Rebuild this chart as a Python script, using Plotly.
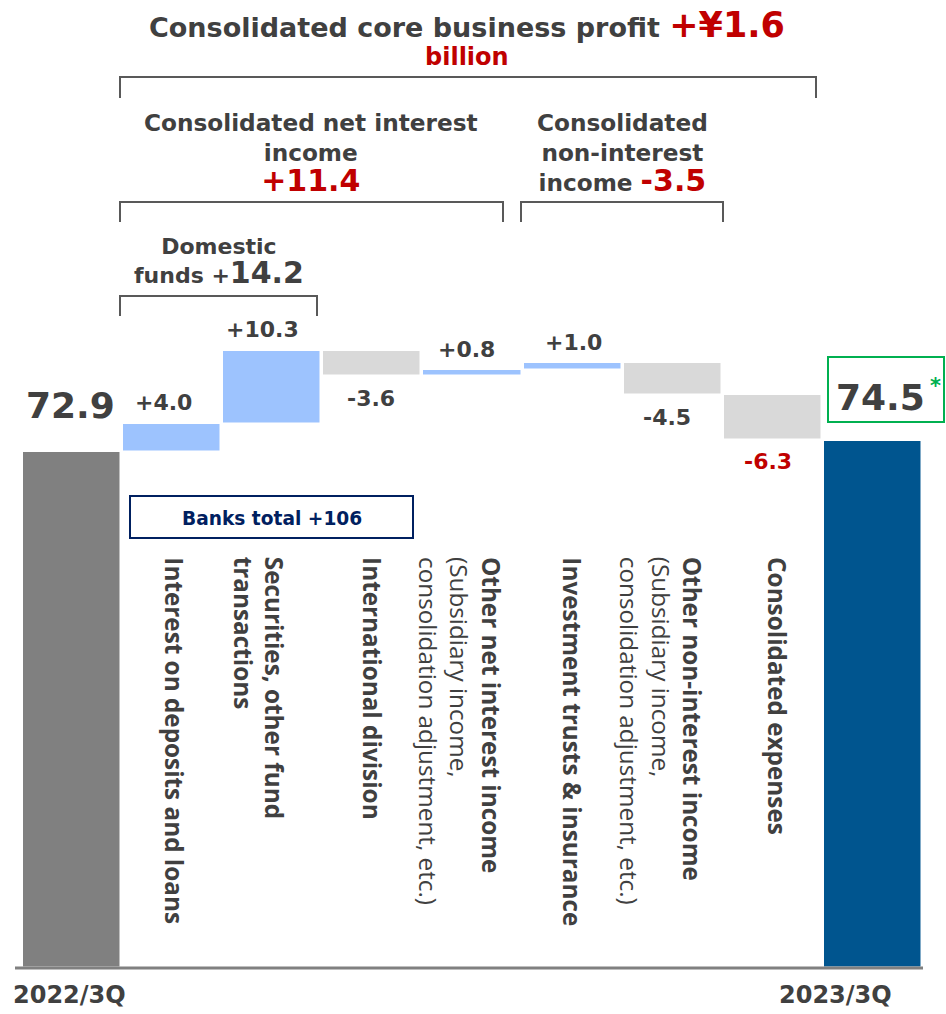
import plotly.graph_objects as go

# ---------------------------------------------------------------- data
period_labels = ["2022/3Q", "2023/3Q"]
start_value = 72.9
end_value = 74.5

step_values = [4.0, 10.3, -3.6, 0.8, 1.0, -4.5, -6.3]
step_titles = [
    ["Interest on deposits and loans"],
    ["Securities, other fund", "transactions"],
    ["International division"],
    ["Other net interest income"],
    ["Investment trusts & insurance"],
    ["Other non-interest income"],
    ["Consolidated expenses"],
]
step_notes = [
    [],
    [],
    [],
    ["(Subsidiary income,", "consolidation adjustment, etc.)"],
    [],
    ["(Subsidiary income,", "consolidation adjustment, etc.)"],
    [],
]

core_profit_change = 1.6
net_interest_change = 11.4
non_interest_change = -3.5
domestic_funds_change = 14.2
banks_total_change = 106

# ---------------------------------------------------------------- style
W, H = 946, 1014
DARK = "#404040"
RED = "#c00000"
GREEN = "#00b050"
NAVY = "#002060"
BRACKET = "#595959"
START_COLOR = "#808080"
END_COLOR = "#00558f"
UP_COLOR = "#9dc3fe"
DOWN_COLOR = "#d9d9d9"
HEAD_FONT = "DejaVu Sans"
BODY_FONT = "Open Sans"


def px(x):
    return x / W


def py(y):
    return 1 - y / H


def signed(v, big=None, color=None):
    """Format a change as +x.x / -x.x, optionally with the number enlarged."""
    sign = "+" if v >= 0 else "-"
    num = f"{abs(v):.1f}"
    style = []
    if big:
        style.append(f"font-size:{big}px")
    if color:
        style.append(f"color:{color}")
    return f"{sign}{num}" if not style else f"<span style='{';'.join(style)}'>{sign}{num}</span>"


# ---------------------------------------------------------------- bars
n = len(step_values)
xs = list(range(n + 2))
bases, heights, colors = [0.0], [start_value], [START_COLOR]
running = start_value
for v in step_values:
    bases.append(running)
    heights.append(v)
    colors.append(UP_COLOR if v >= 0 else DOWN_COLOR)
    running += v
bases.append(0.0)
heights.append(end_value)
colors.append(END_COLOR)

fig = go.Figure(
    go.Bar(
        x=xs,
        y=heights,
        base=bases,
        width=0.98,
        marker=dict(color=colors, line=dict(color="white", width=1.5)),
        hoverinfo="skip",
    )
)

annotations = []
shapes = []


def text_at(x, y, text, size, color=DARK, family=HEAD_FONT, xanchor="center",
            weight="bold"):
    annotations.append(dict(
        xref="paper", yref="paper", x=px(x), y=py(y), text=text,
        showarrow=False, xanchor=xanchor, yanchor="middle",
        font=dict(family=family, size=size, color=color, weight=weight),
    ))


def bracket(x0, x1, y_top, y_bottom):
    shapes.append(dict(
        type="path", xref="paper", yref="paper",
        path=(f"M {px(x0)},{py(y_bottom)} L {px(x0)},{py(y_top)} "
              f"L {px(x1)},{py(y_top)} L {px(x1)},{py(y_bottom)}"),
        line=dict(color=BRACKET, width=2),
    ))


# step value labels, above rising bars and below falling bars
label_dx = [-9, -10, -1, -6, 1, -6, -5]
label_colors = [DARK] * (n - 1) + [RED]
running = start_value
for i, v in enumerate(step_values):
    edge = running + v
    annotations.append(dict(
        x=i + 1, y=edge, xref="x", yref="y", text=f"{v:+.1f}",
        showarrow=False, xanchor="center", yanchor="middle",
        xshift=label_dx[i], yshift=21 if v >= 0 else -22,
        font=dict(family=HEAD_FONT, size=22, color=label_colors[i], weight="bold"),
    ))
    running += v

# period totals
annotations.append(dict(
    x=0, y=start_value, xref="x", yref="y", text=f"{start_value:.1f}",
    showarrow=False, xanchor="center", yanchor="middle", xshift=-1.5, yshift=46,
    font=dict(family=HEAD_FONT, size=36, color=DARK, weight="bold"),
))
annotations.append(dict(
    x=n + 1, y=end_value, xref="x", yref="y", text=f"{end_value:.1f}",
    showarrow=False, xanchor="center", yanchor="middle", xshift=7, yshift=43.5,
    font=dict(family=HEAD_FONT, size=36, color=DARK, weight="bold"),
))
text_at(935, 386, "*", 21, color=GREEN)
shapes.append(dict(type="rect", xref="paper", yref="paper",
                   x0=px(828), x1=px(944), y0=py(357), y1=py(422),
                   line=dict(color=GREEN, width=2)))

# period names under the axis
for xi, lab, dx in [(0, period_labels[0], -2.5), (n + 1, period_labels[1], -37.5)]:
    annotations.append(dict(
        x=xi, y=0, xref="x", yref="y", text=lab, showarrow=False,
        xanchor="center", yanchor="middle", xshift=dx, yshift=-26.5,
        font=dict(family=HEAD_FONT, size=24, color=DARK, weight="bold"),
    ))

# vertical category names
col_dx = [2, -13, 0, -12.5, -0.5, -11.5, 5]
for i, (title, note) in enumerate(zip(step_titles, step_notes)):
    lines = [f"<b>{t}</b>" for t in title] + list(note)
    annotations.append(dict(
        x=i + 1, y=py(555), xref="x", yref="paper", text="<br>".join(lines),
        showarrow=False, textangle=90, align="left",
        xanchor="center", yanchor="top", xshift=col_dx[i],
        font=dict(family=BODY_FONT, size=24.3, color=DARK),
    ))

# banks total box
shapes.append(dict(type="rect", xref="paper", yref="paper",
                   x0=px(130), x1=px(413), y0=py(496), y1=py(538),
                   line=dict(color=NAVY, width=2), fillcolor="white"))
text_at(272, 518, f"Banks total {banks_total_change:+d}", 18.6, color=NAVY)

# headline and group brackets
text_at(467, 25,
        "Consolidated core business profit "
        f"<span style='font-size:35px;color:{RED}'>+¥{core_profit_change:.1f}</span>",
        27)
text_at(467, 57, "billion", 24, color=RED)
bracket(120, 816, 77, 98)

text_at(311, 153,
        "Consolidated net interest<br>income<br>"
        + signed(net_interest_change, big=30, color=RED), 23.2)
text_at(622, 153,
        "Consolidated<br>non-interest<br>income "
        + signed(non_interest_change, big=30, color=RED), 23.2)
bracket(120, 503, 202, 222)
bracket(521, 723, 202, 222)

dom = signed(domestic_funds_change)
text_at(219, 262,
        f"Domestic<br>funds {dom[0]}<span style='font-size:30px'>{dom[1:]}</span>", 22)
bracket(120, 317, 296, 316)

# baseline
shapes.append(dict(type="line", xref="paper", yref="y",
                   x0=px(15), x1=px(923), y0=0, y1=0,
                   line=dict(color="#808080", width=3)))

x_lo = -72 / 100.125
x_hi = x_lo + W / 100.125
y_scale = 7.08
fig.update_layout(
    width=W, height=H,
    margin=dict(l=0, r=0, t=0, b=0),
    paper_bgcolor="white", plot_bgcolor="white",
    showlegend=False,
    bargap=0,
    xaxis=dict(range=[x_lo, x_hi], visible=False, fixedrange=True),
    yaxis=dict(range=[-(H - 968) / y_scale, 968 / y_scale], visible=False,
               fixedrange=True),
    annotations=annotations,
    shapes=shapes,
)

fig.write_html("out.html")
